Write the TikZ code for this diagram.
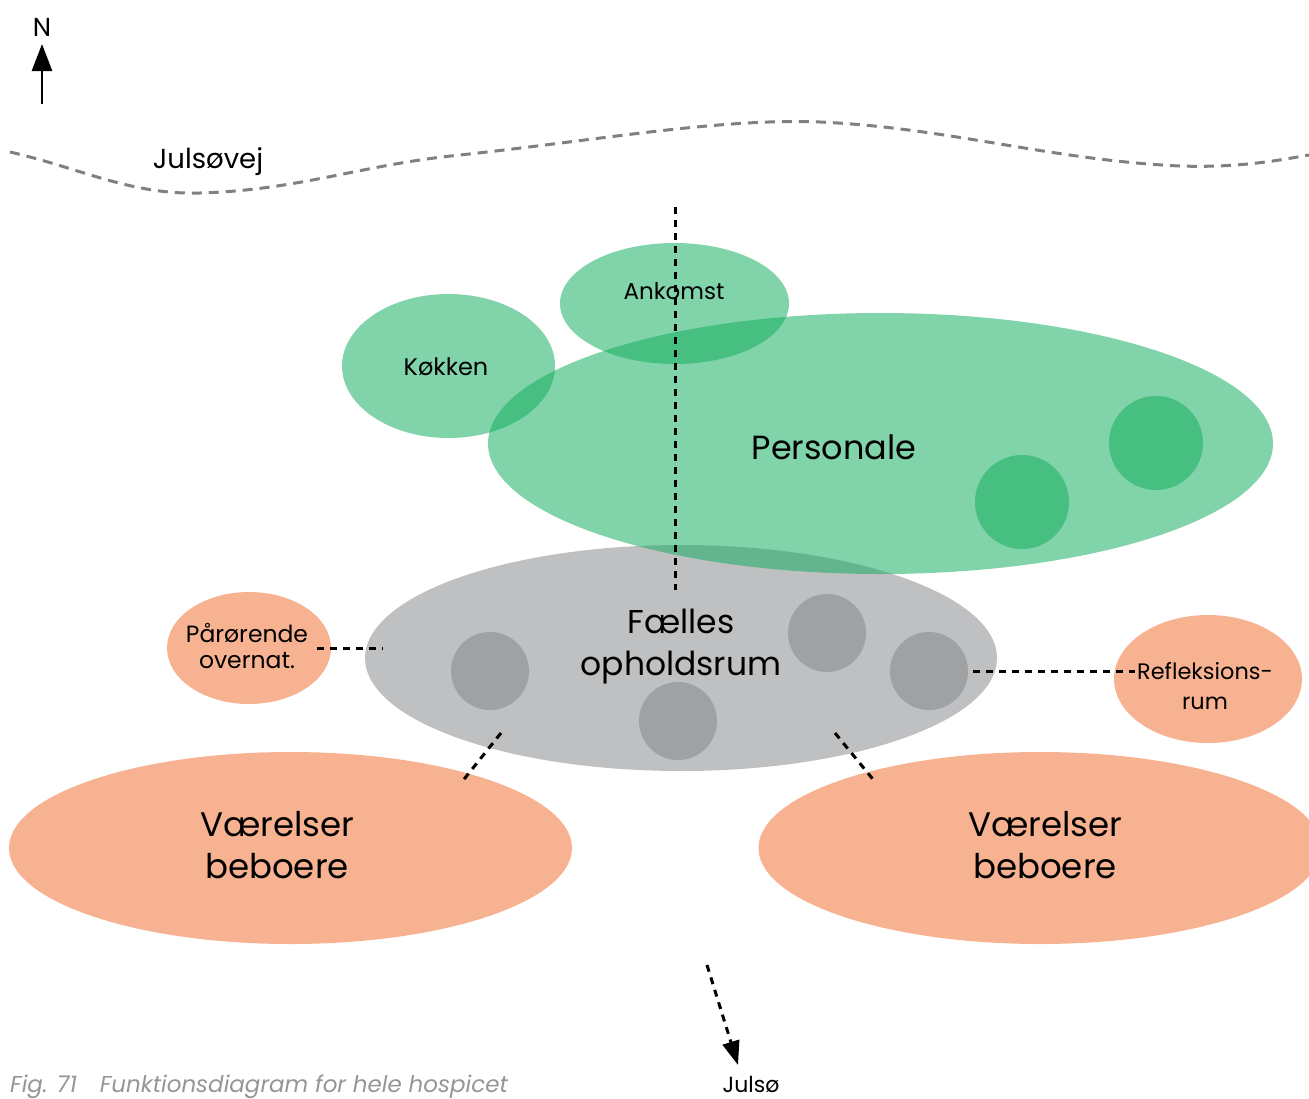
\documentclass[tikz,border=0pt]{standalone}
\usepackage{fontspec}
\setmainfont{Poppins}
\usetikzlibrary{shapes.geometric,arrows.meta}
\definecolor{grn}{RGB}{18,173,94}
\definecolor{fgray}{RGB}{191,192,194}
\definecolor{cgray}{RGB}{160,161,163}
\definecolor{org}{RGB}{247,178,145}
\definecolor{road}{RGB}{128,128,128}
\definecolor{captc}{RGB}{150,150,150}
\tikzset{
  blob/.style={ellipse, inner sep=0pt, draw=none},
  greenblob/.style={blob, fill=grn, fill opacity=0.535},
  orangeblob/.style={blob, fill=org},
  graycirc/.style={circle, inner sep=0pt, fill=cgray, minimum size=78pt},
  greencirc/.style={circle, inner sep=0pt, fill=grn, fill opacity=0.535, minimum size=94pt},
  lbl/.style={inner sep=0pt, align=center, text=black},
  link/.style={draw=black, line width=3pt, dash pattern=on 7pt off 6pt},
}
\begin{document}
\begin{tikzpicture}[x=1pt,y=-1pt]
\useasboundingbox (0,0) rectangle (1309,1098);
% north arrow
\node[lbl, font=\fontsize{26}{28}\selectfont] (N) at (42,27) {N};
\coordinate (nlow) at (42,104);
\coordinate (nhigh) at (42,44);
\draw[line width=2.6pt, -{Triangle[length=27pt,width=20pt]}] (nlow) -- (nhigh);
% road
\draw[road, line width=3pt, dash pattern=on 10pt off 7pt]
  (10,152) .. controls (80,168) and (130,195) .. (200,193)
  .. controls (300,190) and (360,165) .. (460,155)
  .. controls (600,140) and (720,118) .. (820,122)
  .. controls (950,128) and (1050,160) .. (1180,166)
  .. controls (1240,168) and (1280,160) .. (1309,155);
\node[lbl, font=\fontsize{27.5}{30}\selectfont] (road) at (208,162) {Julsøvej};
% common room
\node[blob, fill=fgray, minimum width=632pt, minimum height=226pt] (faelles) at (681,658) {};
\node[graycirc] (g1) at (490,671) {};
\node[graycirc] (g2) at (827,633) {};
\node[graycirc] (g3) at (929,671) {};
\node[graycirc] (g4) at (678,721) {};
% green staff zone
\node[greenblob, minimum width=785pt, minimum height=261pt] (personale) at (880.5,443.5) {};
\node[greenblob, minimum width=229pt, minimum height=121pt] (ankomst) at (674.5,303.5) {};
\node[greenblob, minimum width=213pt, minimum height=144pt] (kokken) at (448.5,366) {};
\node[greencirc] (c1) at (1156,443) {};
\node[greencirc] (c2) at (1022,502) {};
% orange
\node[orangeblob, minimum width=164pt, minimum height=112pt] (paar) at (249,648) {};
\node[orangeblob, minimum width=188pt, minimum height=128pt] (refl) at (1208,679) {};
\node[orangeblob, minimum width=563pt, minimum height=192pt] (vl) at (290.5,848) {};
\node[orangeblob, minimum width=563pt, minimum height=192pt] (vr) at (1040,848) {};
% labels
\node[lbl, font=\fontsize{33.5}{42}\selectfont] (tpers) at (834,447) {Personale};
\node[lbl, font=\fontsize{33}{42}\selectfont] (tfael) at (681,647) {Fælles\\opholdsrum};
\node[lbl, font=\fontsize{34}{42}\selectfont] (tvl) at (277,845) {Værelser\\beboere};
\node[lbl, font=\fontsize{34}{42}\selectfont] (tvr) at (1045,845) {Værelser\\beboere};
\node[lbl, font=\fontsize{24}{26}\selectfont] (tkok) at (446,367) {Køkken};
\node[lbl, font=\fontsize{23}{25}\selectfont] (tank) at (674,291) {Ankomst};
\node[lbl, font=\fontsize{23.5}{26}\selectfont] (tpaar) at (247,646) {Pårørende\\overnat.};
\node[lbl, font=\fontsize{22.4}{30}\selectfont] (trefl) at (1205,686) {Refleksions-\\rum};
% connectors
\coordinate (vtop) at (675,207);
\coordinate (vbot) at (675,590);
\draw[link] (vtop) -- (vbot);
\coordinate (pa) at (317,648);
\coordinate (pb) at (383,648);
\draw[link] (pa) -- (pb);
\coordinate (ra) at (973,671);
\coordinate (rb) at (1135,671);
\draw[link] (ra) -- (rb);
\coordinate (la) at (501,733);
\coordinate (lb) at (461,783);
\draw[link] (la) -- (lb);
\coordinate (rra) at (835,733);
\coordinate (rrb) at (876,783);
\draw[link] (rra) -- (rrb);
% lake arrow
\node[lbl, font=\fontsize{22}{24}\selectfont] (lake) at (751,1084) {Julsø};
\coordinate (ja) at (707,965);
\coordinate (jb) at (738,1065);
\draw[link, -{Triangle[length=24pt,width=17pt]}] (ja) -- (jb);
% caption
\node[anchor=base west, inner sep=0pt, text=captc, font=\fontsize{23}{25}\selectfont\itshape] (cap) at (10,1092) {Fig. 71\quad Funktionsdiagram for hele hospicet};
\end{tikzpicture}
\end{document}
